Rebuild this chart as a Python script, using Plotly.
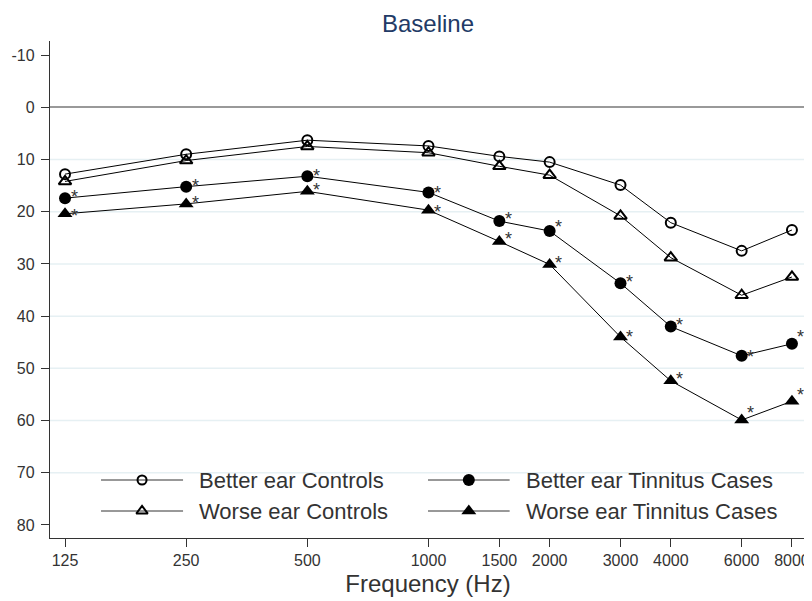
import math
import plotly.graph_objects as go

freqs = [125, 250, 500, 1000, 1500, 2000, 3000, 4000, 6000, 8000]
freq_labels = ["125", "250", "500", "1000", "1500", "2000", "3000", "4000", "6000", "8000"]

better_controls = [12.8, 9.0, 6.3, 7.4, 9.4, 10.5, 14.9, 22.1, 27.5, 23.5]
worse_controls = [14.2, 10.2, 7.5, 8.7, 11.3, 13.0, 20.8, 28.8, 36.0, 32.5]
better_tinnitus = [17.4, 15.2, 13.2, 16.3, 21.8, 23.7, 33.7, 42.0, 47.6, 45.3]
worse_tinnitus = [20.4, 18.5, 16.1, 19.7, 25.7, 30.1, 44.0, 52.4, 59.9, 56.3]

y_ticks = [-10, 0, 10, 20, 30, 40, 50, 60, 70, 80]
y_labels = ["-10", "0", "10", "20", "30", "40", "50", "60", "70", "80"]
grid_vals = [10, 20, 30, 40, 50, 60, 70]

# asterisk label placement (pixel nudges, styling only)
star_lift_bt = [1, 1, 0, -1, 2, 4, 1, 2, -1, 7]
star_lift_wt = [-2, 1, 1, -2, 2, 1, 0, 2, 7, 6]

# name, values, symbol, size, significant (asterisk), asterisk lift
series = [
    ("Better ear Controls", better_controls, "circle-open", 10, False, None),
    ("Worse ear Controls", worse_controls, "triangle-up-open", 11, False, None),
    ("Better ear Tinnitus Cases", better_tinnitus, "circle", 12, True, star_lift_bt),
    ("Worse ear Tinnitus Cases", worse_tinnitus, "triangle-up", 13, True, star_lift_wt),
]

FONT = "Arial, Liberation Sans, sans-serif"
TXT = "#333333"

fig = go.Figure()
annotations = []
for name, vals, sym, size, star, lift in series:
    fig.add_trace(go.Scatter(
        x=freqs, y=vals, name=name, mode="lines+markers",
        line=dict(color="black", width=1),
        marker=dict(symbol=sym, size=size, color="black",
                    line=dict(color="black", width=2 if not star else 0)),
        showlegend=False, cliponaxis=False,
    ))
    if star:
        for f, v, ls in zip(freqs, vals, lift):
            # annotations on a log axis take log10 positions
            annotations.append(dict(x=math.log10(f), y=v, xref="x", yref="y", text="*",
                                    showarrow=False, xanchor="center", yanchor="middle",
                                    xshift=9, yshift=ls,
                                    font=dict(family=FONT, size=18, color=TXT)))

# custom legend drawn on an overlay axis (0..1 in both directions)
leg_rows = [0.1167, 0.0543]
leg_cols = [(0.0675, 0.176, 0.194), (0.5, 0.608, 0.627)]
layout_pos = [(0, 0), (0, 1), (1, 0), (1, 1)]
for (name, vals, sym, size, star, lift), (c, r) in zip(series, layout_pos):
    x0, x1, xt = leg_cols[c]
    yy = leg_rows[r]
    fig.add_trace(go.Scatter(
        x=[x0, x1], y=[yy, yy], mode="lines", line=dict(color=TXT, width=1),
        xaxis="x2", yaxis="y2", showlegend=False, hoverinfo="skip"))
    fig.add_trace(go.Scatter(
        x=[(x0 + x1) / 2], y=[yy], mode="markers",
        marker=dict(symbol=sym, size=size - (1 if not star else 0), color="black",
                    line=dict(color="black", width=2 if not star else 0)),
        xaxis="x2", yaxis="y2", showlegend=False, hoverinfo="skip"))
    annotations.append(dict(x=xt, y=yy, xref="x2", yref="y2", text=name,
                            showarrow=False, xanchor="left", yanchor="middle",
                            font=dict(family=FONT, size=22, color=TXT)))

shapes = [dict(type="line", xref="paper", x0=0, x1=1, yref="y", y0=g, y1=g,
               line=dict(color="#e6f0f3", width=1.5), layer="below") for g in grid_vals]

fig.update_layout(
    width=804, height=593,
    margin=dict(l=42, r=6, t=33, b=63, autoexpand=False),
    paper_bgcolor="white", plot_bgcolor="white",
    font=dict(family=FONT, color=TXT),
    title=dict(text="Baseline", x=0.5, xref="paper", xanchor="center", y=0.974, yanchor="middle",
               font=dict(size=24, color="#223a66")),
    xaxis=dict(type="log", range=[2.0596, 3.938], tickvals=freqs, ticktext=freq_labels,
               ticks="outside", ticklen=8, tickcolor=TXT, showline=True, automargin=False,
               linecolor=TXT, linewidth=1.3, showgrid=False, zeroline=False,
               tickfont=dict(size=16, color=TXT),
               title=dict(text="Frequency (Hz)", font=dict(size=24, color=TXT), standoff=6)),
    yaxis=dict(range=[82.5, -12.7], tickvals=y_ticks, ticktext=y_labels, ticks="outside", ticklen=8,
               tickcolor=TXT, showline=True, linecolor=TXT, linewidth=1.3, automargin=False,
               ticklabelstandoff=3,
               showgrid=False, zeroline=True, zerolinecolor="#999999", zerolinewidth=1.5,
               tickfont=dict(size=16, color=TXT)),
    xaxis2=dict(range=[0, 1], visible=False, overlaying="x", anchor="y2"),
    yaxis2=dict(range=[0, 1], visible=False, overlaying="y", anchor="x2"),
    shapes=shapes,
    annotations=annotations,
)

fig.write_html("out.html")
